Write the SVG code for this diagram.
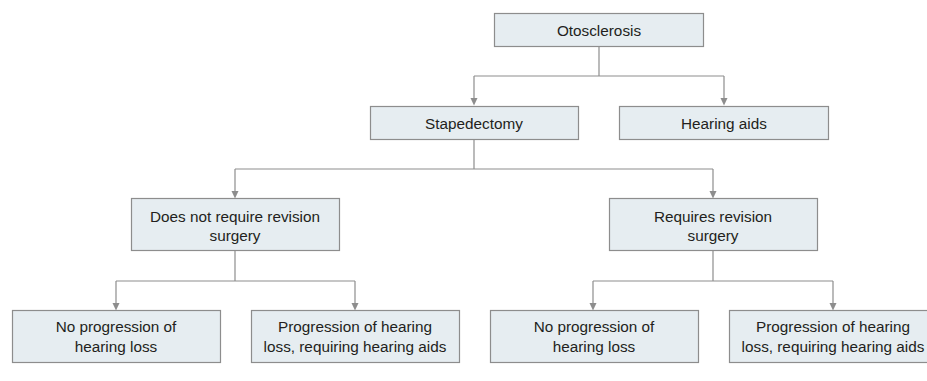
<svg xmlns="http://www.w3.org/2000/svg" width="927" height="381" viewBox="0 0 927 381">
<defs>
<style>
.box{fill:#e6edf1;stroke:#8d8d8d;stroke-width:1.2}
.t{font-family:"Liberation Sans",Arial,sans-serif;font-size:15.3px;fill:#231f20;text-anchor:middle}
.c{fill:none;stroke:#8d8d8d;stroke-width:1.2}
.ah{fill:#8d8d8d}
</style>
</defs>
<rect width="927" height="381" fill="#fff"/>
<g id="connectors">
<path class="c" d="M599,47 V76"/>
<path class="c" d="M474,76 H724"/>
<path class="c" d="M474,76 V98"/>
<path class="c" d="M724,76 V98"/>
<path class="c" d="M474,139 V169"/>
<path class="c" d="M235,169 H713"/>
<path class="c" d="M235,169 V191"/>
<path class="c" d="M713,169 V191"/>
<path class="c" d="M235,251 V281"/>
<path class="c" d="M116,281 H355"/>
<path class="c" d="M116,281 V303"/>
<path class="c" d="M355,281 V303"/>
<path class="c" d="M713,251 V281"/>
<path class="c" d="M593,281 H833"/>
<path class="c" d="M593,281 V303"/>
<path class="c" d="M833,281 V303"/>
<path class="ah" d="M470.5,98 h7 l-3.5,7.5 z"/>
<path class="ah" d="M720.5,98 h7 l-3.5,7.5 z"/>
<path class="ah" d="M231.5,191 h7 l-3.5,7.5 z"/>
<path class="ah" d="M709.5,191 h7 l-3.5,7.5 z"/>
<path class="ah" d="M112.5,303 h7 l-3.5,7.5 z"/>
<path class="ah" d="M351.5,303 h7 l-3.5,7.5 z"/>
<path class="ah" d="M589.5,303 h7 l-3.5,7.5 z"/>
<path class="ah" d="M829.5,303 h7 l-3.5,7.5 z"/>
</g>
<g id="otosclerosis"><rect class="box" x="494.5" y="13.5" width="209" height="33"/><text class="t" x="599" y="36">Otosclerosis</text></g>
<g id="stapedectomy"><rect class="box" x="370.5" y="106.5" width="208" height="33"/><text class="t" x="474" y="129">Stapedectomy</text></g>
<g id="hearing-aids"><rect class="box" x="619.5" y="106.5" width="209" height="33"/><text class="t" x="724" y="129">Hearing aids</text></g>
<g id="no-revision"><rect class="box" x="131.5" y="198.5" width="208" height="52"/><text class="t" x="235" y="222">Does not require revision</text><text class="t" x="235" y="241">surgery</text></g>
<g id="revision"><rect class="box" x="609.5" y="198.5" width="208" height="52"/><text class="t" x="713" y="222">Requires revision</text><text class="t" x="713" y="241">surgery</text></g>
<g id="no-prog-1"><rect class="box" x="12.5" y="310.5" width="208" height="52"/><text class="t" x="116" y="332">No progression of</text><text class="t" x="116" y="352">hearing loss</text></g>
<g id="prog-1"><rect class="box" x="251.5" y="310.5" width="208" height="52"/><text class="t" x="355" y="332">Progression of hearing</text><text class="t" x="355" y="352">loss, requiring hearing aids</text></g>
<g id="no-prog-2"><rect class="box" x="490.5" y="310.5" width="208" height="52"/><text class="t" x="594" y="332">No progression of</text><text class="t" x="594" y="352">hearing loss</text></g>
<g id="prog-2"><rect class="box" x="729.5" y="310.5" width="208" height="52"/><text class="t" x="833" y="332">Progression of hearing</text><text class="t" x="833" y="352">loss, requiring hearing aids</text></g>
</svg>
